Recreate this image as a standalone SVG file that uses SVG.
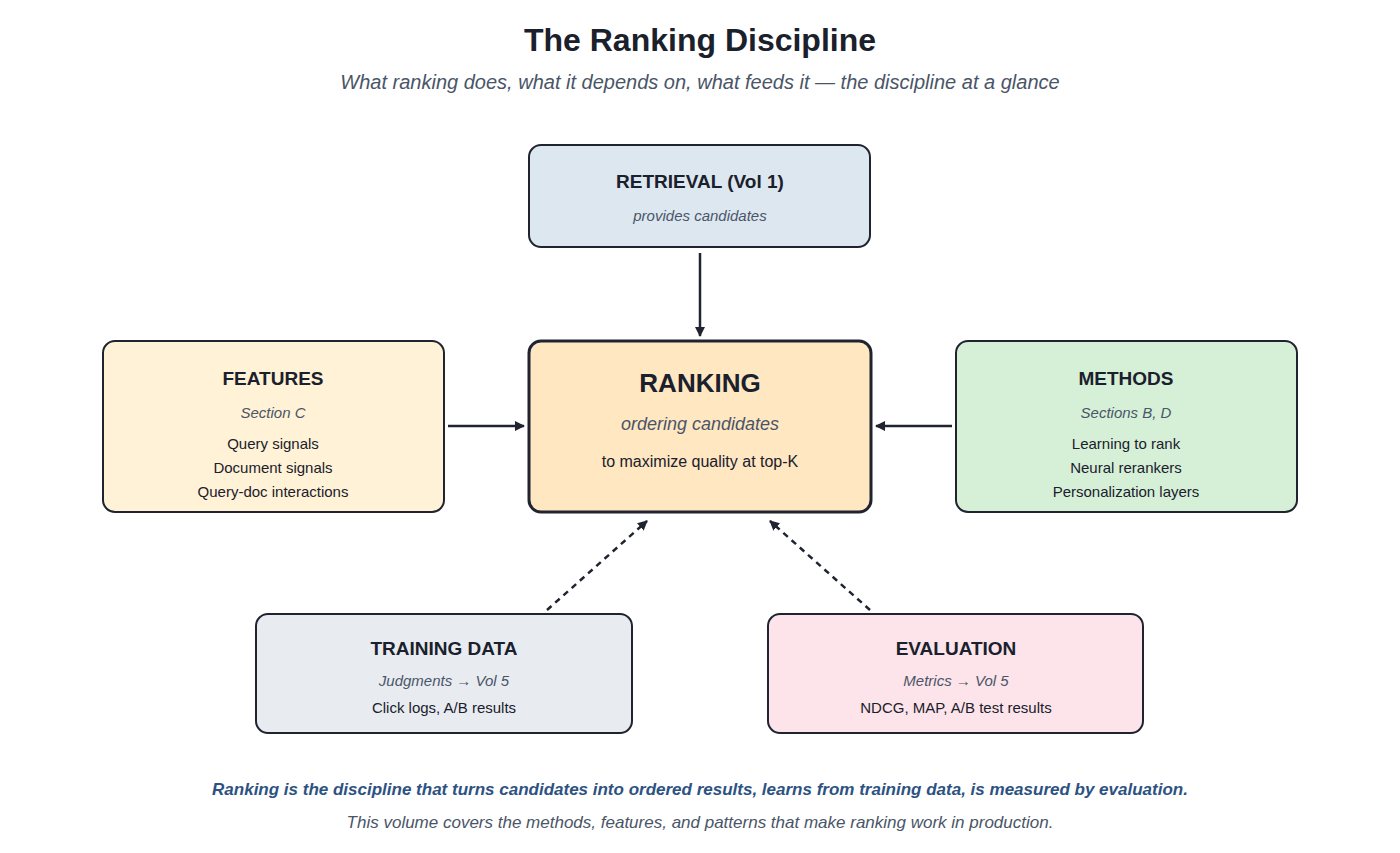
<svg xmlns="http://www.w3.org/2000/svg" width="1400" height="853" viewBox="0 0 1400 853">
<style>
text{font-family:"Liberation Sans",Arial,sans-serif;text-anchor:middle;fill:#1a202c}
.box{stroke:#1f2430;stroke-width:2}
.h{font-size:19px;font-weight:bold}
.s{font-size:15px;font-style:italic;fill:#4a5568}
.b{font-size:15px}
.c{stroke:#1f2430;stroke-width:2.5;fill:none}
.d{stroke-dasharray:6,5}
</style>
<defs><marker id="a" viewBox="0 0 10 10" refX="9" refY="5" markerWidth="7" markerHeight="7" orient="auto" markerUnits="userSpaceOnUse"><path d="M0,0L10,5L0,10z" fill="#1f2430"/></marker>
<marker id="ah" viewBox="0 0 10 10" refX="9" refY="5" markerWidth="4" markerHeight="4" orient="auto"><path d="M0,0L10,5L0,10z" fill="#1f2430"/></marker></defs>
<rect width="1400" height="853" fill="#fff"/>
<text x="700" y="51" style="font-size:32px;font-weight:bold">The Ranking Discipline</text>
<text x="700" y="89" style="font-size:20px;font-style:italic;fill:#4a5568">What ranking does, what it depends on, what feeds it — the discipline at a glance</text>
<g id="connectors">
<path class="c" d="M700,253V336" marker-end="url(#ah)"/>
<path class="c" d="M448,426H524" marker-end="url(#ah)"/>
<path class="c" d="M952,426H876" marker-end="url(#ah)"/>
<path class="c d" d="M547,610L647,521" marker-end="url(#ah)"/>
<path class="c d" d="M870,610L770,521" marker-end="url(#ah)"/>
</g>
<g id="retrieval"><rect class="box" x="529" y="145" width="341" height="102" rx="12" fill="#dde7f0"/>
<text class="h" x="700" y="188">RETRIEVAL (Vol 1)</text><text class="s" x="700" y="221">provides candidates</text></g>
<g id="ranking"><rect class="box" x="529" y="341" width="342" height="171" rx="12" fill="#ffe7c1" style="stroke-width:3"/>
<text x="700" y="392" style="font-size:26px;font-weight:bold">RANKING</text>
<text x="700" y="430" style="font-size:18px;font-style:italic;fill:#4a5568">ordering candidates</text>
<text x="700" y="467" style="font-size:16px">to maximize quality at top-K</text></g>
<g id="features"><rect class="box" x="103" y="341" width="341" height="171" rx="12" fill="#fff2d6"/>
<text class="h" x="273" y="385">FEATURES</text><text class="s" x="273" y="418">Section C</text>
<text class="b" x="273" y="449">Query signals</text><text class="b" x="273" y="473">Document signals</text><text class="b" x="273" y="497">Query-doc interactions</text></g>
<g id="methods"><rect class="box" x="956" y="341" width="341" height="171" rx="12" fill="#d6f0d8"/>
<text class="h" x="1126" y="385">METHODS</text><text class="s" x="1126" y="418">Sections B, D</text>
<text class="b" x="1126" y="449">Learning to rank</text><text class="b" x="1126" y="473">Neural rerankers</text><text class="b" x="1126" y="497">Personalization layers</text></g>
<g id="training"><rect class="box" x="256" y="614" width="376" height="119" rx="12" fill="#e8ecf1"/>
<text class="h" x="444" y="655">TRAINING DATA</text><text class="s" x="444" y="686">Judgments → Vol 5</text><text class="b" x="444" y="713">Click logs, A/B results</text></g>
<g id="evaluation"><rect class="box" x="768" y="614" width="375" height="119" rx="12" fill="#fce4ea"/>
<text class="h" x="956" y="655">EVALUATION</text><text class="s" x="956" y="686">Metrics → Vol 5</text><text class="b" x="956" y="713">NDCG, MAP, A/B test results</text></g>
<text x="700" y="795" style="font-size:17px;font-weight:bold;font-style:italic;fill:#2c5282">Ranking is the discipline that turns candidates into ordered results, learns from training data, is measured by evaluation.</text>
<text x="700" y="828" style="font-size:17px;font-style:italic;fill:#4a5568">This volume covers the methods, features, and patterns that make ranking work in production.</text>
</svg>
